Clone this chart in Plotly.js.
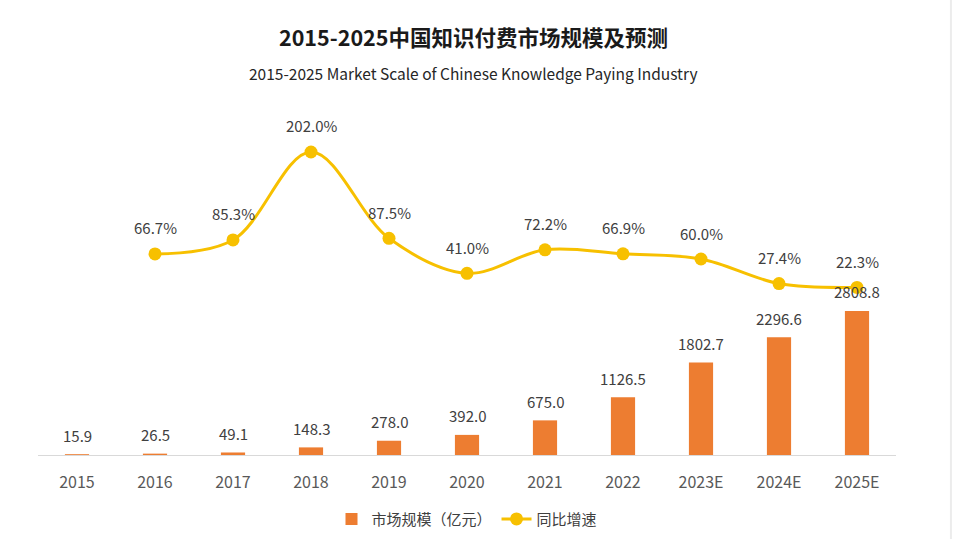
<!DOCTYPE html>
<html>
<head>
<meta charset="utf-8">
<script src="https://cdn.plot.ly/plotly-3.0.1.min.js"></script>
<style>html,body{margin:0;padding:0;background:#fff;}#chart{width:962px;height:539px;}</style>
</head>
<body>
<div id="chart"></div>
<script>
const categories = ["2015","2016","2017","2018","2019","2020","2021","2022","2023E","2024E","2025E"];
const marketScale = [15.9, 26.5, 49.1, 148.3, 278.0, 392.0, 675.0, 1126.5, 1802.7, 2296.6, 2808.8];
const growthRate = [null, 66.7, 85.3, 202.0, 87.5, 41.0, 72.2, 66.9, 60.0, 27.4, 22.3];
const barName = "市场规模（亿元）";
const lineName = "同比增速";
const titleCN = "2015-2025中国知识付费市场规模及预测";
const titleEN = "2015-2025 Market Scale of Chinese Knowledge Paying Industry";

const FONT = "Noto Sans CJK SC, Noto Sans, sans-serif";
const LABEL_COLOR = "#404040";

const barTrace = {
  type: "bar", name: barName, x: categories, y: marketScale,
  marker: {color: "#ED7D31"}, width: 0.31
};
const lineTrace = {
  type: "scatter", mode: "lines+markers", name: lineName, x: categories, y: growthRate,
  yaxis: "y2", line: {color: "#F7C000", width: 3, shape: "spline", smoothing: 1},
  marker: {color: "#F7C000", size: 13}, connectgaps: false
};

const annotations = [];
categories.forEach((c, i) => {
  annotations.push({
    x: i, y: marketScale[i], xref: "x", yref: "y", text: marketScale[i].toFixed(1),
    showarrow: false, yanchor: "middle", yshift: 19,
    font: {family: FONT, size: 15, color: LABEL_COLOR}
  });
  if (growthRate[i] !== null) {
    annotations.push({
      x: i, y: growthRate[i], xref: "x", yref: "y2", text: growthRate[i].toFixed(1) + "%",
      showarrow: false, yanchor: "middle", yshift: 26,
      font: {family: FONT, size: 15, color: LABEL_COLOR}
    });
  }
});
annotations.push({
  text: "<b>" + titleCN + "</b>", xref: "paper", yref: "paper", x: 0.507, y: 1.2116,
  showarrow: false, xanchor: "center", yanchor: "middle",
  font: {family: FONT, size: 21.5, color: "#1a1a1a"}
});
annotations.push({
  text: titleEN, xref: "paper", yref: "paper", x: 0.507, y: 1.107,
  showarrow: false, xanchor: "center", yanchor: "middle",
  font: {family: FONT, size: 15.5, color: "#262626"}
});

const layout = {
  width: 962, height: 539,
  margin: {l: 38, r: 66, t: 110, b: 84, autoexpand: false},
  paper_bgcolor: "#ffffff", plot_bgcolor: "#ffffff",
  font: {family: FONT, color: LABEL_COLOR},
  showlegend: true,
  legend: {orientation: "h", x: 0.5, xanchor: "center", y: -0.186, yanchor: "middle",
           font: {family: FONT, size: 15, color: "#404040"}, traceorder: "normal"},
  xaxis: {type: "category", range: [-0.5, categories.length - 0.5], showline: true,
          linecolor: "#D9D9D9", linewidth: 1, automargin: false,
          ticks: "", showgrid: false, zeroline: false, ticklabelstandoff: 13,
          tickfont: {family: FONT, size: 16, color: "#595959"}, fixedrange: true},
  yaxis: {range: [0, 6725], visible: false, showgrid: false, zeroline: false, fixedrange: true},
  yaxis2: {range: [-200, 257.7], overlaying: "y", side: "right", visible: false,
           showgrid: false, zeroline: false, fixedrange: true},
  annotations: annotations,
  shapes: [{type: "line", xref: "paper", yref: "paper", x0: 1.064, x1: 1.064, y0: -0.25, y1: 1.33,
            line: {color: "#ececec", width: 2}}]
};

Plotly.newPlot("chart", [barTrace, lineTrace], layout, {displayModeBar: false, staticPlot: true});
</script>
</body>
</html>
